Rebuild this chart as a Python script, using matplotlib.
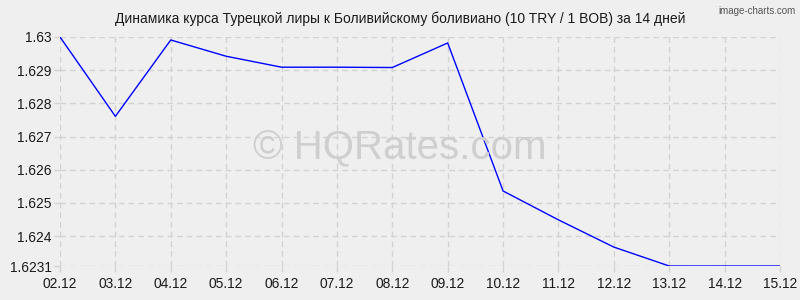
import matplotlib
matplotlib.use('Agg')
import matplotlib.pyplot as plt

# Rates, 10 TRY / 1 BOB
dates = ['02.12', '03.12', '04.12', '05.12', '06.12', '07.12', '08.12',
         '09.12', '10.12', '11.12', '12.12', '13.12', '14.12', '15.12']
rates = [1.6300, 1.62761, 1.62991, 1.62942, 1.62909, 1.62909, 1.62908,
         1.62982, 1.62536, 1.62449, 1.62367, 1.6231, 1.6231, 1.6231]
y_ticks = [1.6231, 1.624, 1.625, 1.626, 1.627, 1.628, 1.629, 1.63]
y_labels = ['1.6231', '1.624', '1.625', '1.626', '1.627', '1.628', '1.629', '1.63']

plt.rcParams['font.family'] = ['Liberation Sans', 'DejaVu Sans']
bg = '#efefef'
grid_c = '#d2d2d2'

fig = plt.figure(figsize=(8, 3), dpi=100, facecolor=bg)
ax = fig.add_axes([0.075, 0.1133, 0.9, 0.7634], facecolor=bg)

x = list(range(len(dates)))
ax.plot(x, rates, color='#0000ff', linewidth=1, zorder=3)

ax.set_xlim(0, len(dates) - 1)
ax.set_ylim(1.6231, 1.63)
ax.set_xticks(x)
ax.set_xticklabels(dates)
ax.set_yticks(y_ticks)
ax.set_yticklabels(y_labels)
ax.tick_params(axis='both', labelsize=9.9, colors=grid_c, labelcolor='#1a1a1a',
               length=4, width=1)
ax.tick_params(axis='x', pad=4)
ax.tick_params(axis='y', pad=2)

for s in ax.spines.values():
    s.set_visible(False)

ax.grid(True, color=grid_c, linestyle=(0, (4, 3)), linewidth=1)

fig.text(0.5, 0.938, 'Динамика курса Турецкой лиры к Боливийскому боливиано (10 TRY / 1 BOB) за 14 дней',
         ha='center', va='center', fontsize=10, color='#1a1a1a')
fig.text(0.994, 0.965, 'image-charts.com', ha='right', va='center',
         fontsize=7, color='#555555')
fig.text(0.5, 0.505, '© HQRates.com', ha='center', va='center',
         fontsize=29, color='#cfcfcf', zorder=1)

fig.savefig('out.png', dpi=100, facecolor=bg)
